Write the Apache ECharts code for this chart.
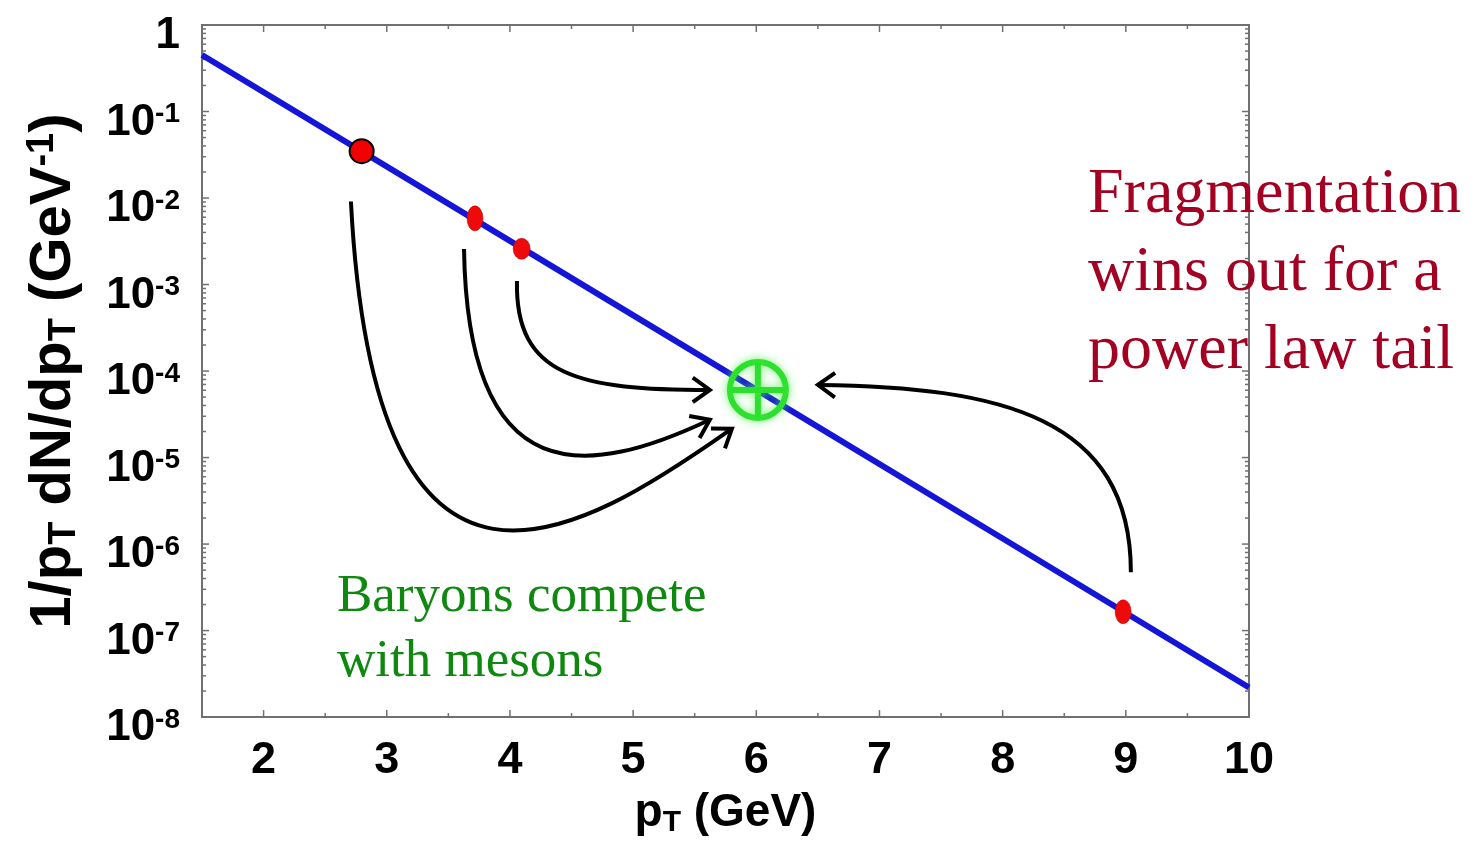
<!DOCTYPE html>
<html>
<head>
<meta charset="utf-8">
<script src="https://cdn.jsdelivr.net/npm/echarts@6/dist/echarts.min.js"></script>
<style>
html,body{margin:0;padding:0;background:#fff;}
#chart{width:1475px;height:843px;}
</style>
</head>
<body>
<div id="chart"></div>
<script>
// ---- axis ranges & ticks ----
const X_MIN = 1.5, X_MAX = 10;
const Y_MIN = 1e-8, Y_MAX = 1;
const xMajorTicks = [2, 3, 4, 5, 6, 7, 8, 9];
const xMinorTicks = [2.5, 3.5, 4.5, 5.5, 6.5, 7.5, 8.5, 9.5];
const yDecadeExponents = [-8, -7, -6, -5, -4, -3, -2, -1, 0];
const yMinorMultipliers = [2, 3, 4, 5, 6, 7, 8, 9];

// ---- spectrum (blue line) ----
const curvePt = [1.5, 4, 6, 8, 10];
const curveVal = [0.45, 3.2e-3, 6.1e-5, 1.16e-6, 2.2e-8];

// ---- red marked points ----
const redPt = [2.796, 3.716, 4.095, 8.978];
const redVal = [3.48e-2, 5.82e-3, 2.59e-3, 1.65e-7];

// ---- green target marker ----
const targetPt = [6.013];
const targetVal = [6.05e-5];

// ---- arrows (bezier control points in data coordinates) ----
const arrowA = [[2.709, 9.12e-3], [2.904, 4.05e-8], [4.568, 1.25e-6], [5.802, 2.16e-5]];
const arrowB = [[3.627, 2.57e-3], [3.659, 3.6e-6], [4.650, 6.1e-6], [5.623, 2.74e-5]];
const arrowC = [[4.057, 1.10e-3], [4.041, 8.5e-5], [4.568, 6.05e-5], [5.623, 6.05e-5]];
const arrowD = [[9.041, 4.71e-7], [9.041, 2.97e-5], [7.977, 6.56e-5], [6.500, 6.92e-5]];
const arrows = [arrowA, arrowB, arrowC, arrowD];

// ---- texts ----
const noteRight = 'Fragmentation\nwins out for a\npower law tail';
const noteLeft = 'Baryons compete\nwith mesons';

// build tick data [x, y, kind]
const tickData = [];
xMajorTicks.forEach(v => tickData.push([v, Y_MIN, 0]));
xMinorTicks.forEach(v => tickData.push([v, Y_MIN, 1]));
yDecadeExponents.forEach(e => tickData.push([X_MIN, Math.pow(10, e), 2]));
yDecadeExponents.slice(0, -1).forEach(e => yMinorMultipliers.forEach(m => tickData.push([X_MIN, m * Math.pow(10, e), 3])));

const chart = echarts.init(document.getElementById('chart'));
const SANS = '"Liberation Sans", Arial, Helvetica, sans-serif';
const SERIF = '"Liberation Serif", "Times New Roman", serif';
const frameColor = '#707070';

const redSizes = [[24, 24], [16, 25], [17, 21], [16, 24]];

chart.setOption({
  animation: false,
  backgroundColor: '#fff',
  grid: {left: 202, right: 226, top: 25, bottom: 120, show: true, borderColor: frameColor, borderWidth: 2, backgroundColor: 'transparent'},
  xAxis: {
    type: 'value', min: X_MIN, max: X_MAX, interval: 0.5,
    axisLine: {show: false}, axisTick: {show: false}, splitLine: {show: false},
    axisLabel: {
      margin: 20, fontSize: 45, lineHeight: 46, fontWeight: 'bold', color: '#000', fontFamily: SANS,
      showMinLabel: true, showMaxLabel: true, hideOverlap: false,
      formatter: v => (Math.abs(v - Math.round(v)) < 1e-9 ? String(Math.round(v)) : '')
    },
    name: 'p{sub|T} (GeV)', nameLocation: 'middle', nameGap: 66,
    nameTextStyle: {
      fontSize: 46, fontWeight: 'bold', color: '#000', fontFamily: SANS, lineHeight: 50,
      rich: {sub: {fontSize: 30, fontWeight: 'bold', fontFamily: SANS, color: '#000', verticalAlign: 'bottom', lineHeight: 18}}
    }
  },
  yAxis: {
    type: 'log', logBase: 10, min: Y_MIN, max: Y_MAX, splitNumber: 8,
    axisLine: {show: false}, axisTick: {show: false}, splitLine: {show: false},
    axisLabel: {
      margin: 22, padding: [22, 0, 0, 0], hideOverlap: false, showMinLabel: true, showMaxLabel: true,
      formatter: v => {
        const e = Math.round(Math.log10(v));
        return e === 0 ? '{b|1}' : '{b|10}{s|' + e + '}';
      },
      rich: {
        b: {fontSize: 44, fontWeight: 'bold', fontFamily: SANS, color: '#000', lineHeight: 44},
        s: {fontSize: 28, fontWeight: 'bold', fontFamily: SANS, color: '#000', verticalAlign: 'top', lineHeight: 22}
      }
    },
    name: '1/p{sub|T} dN/dp{sub|T} (GeV{sup|-1})', nameLocation: 'middle', nameGap: 118,
    nameTextStyle: {
      fontSize: 58, fontWeight: 'bold', color: '#000', fontFamily: SANS, lineHeight: 60,
      rich: {
        sub: {fontSize: 38, fontWeight: 'bold', fontFamily: SANS, color: '#000', verticalAlign: 'bottom', lineHeight: 22},
        sup: {fontSize: 38, fontWeight: 'bold', fontFamily: SANS, color: '#000', verticalAlign: 'top', lineHeight: 32}
      }
    }
  },
  graphic: [
    {type: 'text', left: 1088, top: 156, z: 100,
      style: {text: noteRight, font: '64px ' + SERIF, fill: '#a30022', lineHeight: 78}},
    {type: 'text', left: 337, top: 565, z: 100,
      style: {text: noteLeft, font: '53px ' + SERIF, fill: '#0f880f', lineHeight: 65}}
  ],
  series: [
    {
      type: 'custom', name: 'ticks', coordinateSystem: 'cartesian2d', silent: true, z: 1,
      data: tickData,
      renderItem: (params, api) => {
        const kind = api.value(2);
        const x = api.value(0), y = api.value(1);
        const st = {stroke: frameColor, lineWidth: 1.5};
        if (kind <= 1) {
          const L = kind === 0 ? 7 : 4;
          const pb = api.coord([x, Y_MIN]), pt = api.coord([x, Y_MAX]);
          return {type: 'group', children: [
            {type: 'line', shape: {x1: pb[0], y1: pb[1], x2: pb[0], y2: pb[1] - L}, style: st},
            {type: 'line', shape: {x1: pt[0], y1: pt[1], x2: pt[0], y2: pt[1] + L}, style: st}
          ]};
        }
        const L = kind === 2 ? 7 : 4;
        const pl = api.coord([X_MIN, y]), pr = api.coord([X_MAX, y]);
        return {type: 'group', children: [
          {type: 'line', shape: {x1: pl[0], y1: pl[1], x2: pl[0] + L, y2: pl[1]}, style: st},
          {type: 'line', shape: {x1: pr[0], y1: pr[1], x2: pr[0] - L, y2: pr[1]}, style: st}
        ]};
      }
    },
    {
      type: 'line', name: 'spectrum', z: 2, showSymbol: false, symbol: 'none',
      data: curvePt.map((x, i) => [x, curveVal[i]]),
      lineStyle: {color: '#1515d8', width: 6}, clip: true
    },
    {
      type: 'custom', name: 'arrows', coordinateSystem: 'cartesian2d', silent: true, z: 3,
      data: arrows.map(a => a[0]),
      renderItem: (params, api) => {
        const pts = arrows[params.dataIndex].map(p => api.coord(p));
        const [p0, p1, p2, p3] = pts;
        const ang = Math.atan2(p3[1] - p2[1], p3[0] - p2[0]);
        const L = 21, a = 0.62;
        const h1 = [p3[0] - L * Math.cos(ang - a), p3[1] - L * Math.sin(ang - a)];
        const h2 = [p3[0] - L * Math.cos(ang + a), p3[1] - L * Math.sin(ang + a)];
        return {type: 'group', children: [
          {type: 'bezierCurve', shape: {x1: p0[0], y1: p0[1], cpx1: p1[0], cpy1: p1[1], cpx2: p2[0], cpy2: p2[1], x2: p3[0], y2: p3[1]},
            style: {stroke: '#000', lineWidth: 4, fill: 'none'}},
          {type: 'polyline', shape: {points: [h1, p3, h2]}, style: {stroke: '#000', lineWidth: 4, fill: 'none', lineJoin: 'miter'}}
        ]};
      }
    },
    {
      type: 'scatter', name: 'points', z: 4, symbol: 'circle',
      data: redPt.map((x, i) => ({
        value: [x, redVal[i]], symbolSize: redSizes[i],
        itemStyle: i === 0 ? {color: '#f00000', borderColor: '#000', borderWidth: 2, opacity: 1}
                           : {color: '#ee0a0a', borderColor: '#c00000', borderWidth: 0.5, opacity: 1}
      }))
    },
    {
      type: 'custom', name: 'target', coordinateSystem: 'cartesian2d', silent: true, z: 5,
      data: targetPt.map((x, i) => [x, targetVal[i]]),
      renderItem: (params, api) => {
        const c = api.coord([api.value(0), api.value(1)]);
        const r = 28;
        const st = {stroke: '#2ee02e', lineWidth: 6, fill: 'none', shadowBlur: 8, shadowColor: 'rgba(80,240,80,0.8)'};
        return {type: 'group', children: [
          {type: 'circle', shape: {cx: c[0], cy: c[1], r: r}, style: st},
          {type: 'line', shape: {x1: c[0], y1: c[1] - r, x2: c[0], y2: c[1] + r}, style: st},
          {type: 'line', shape: {x1: c[0] - r, y1: c[1], x2: c[0] + r, y2: c[1]}, style: st}
        ]};
      }
    }
  ]
});
</script>
</body>
</html>
